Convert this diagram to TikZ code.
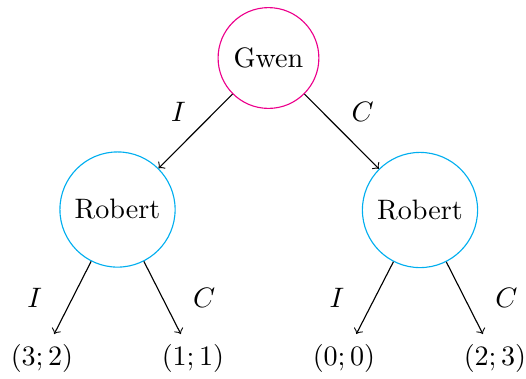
\documentclass[tikz,border=0pt]{standalone}
\usepackage{amsmath}
\usepackage{xcolor}
\usepackage{tikz}

\definecolor{gwencol}{RGB}{236,0,140}
\definecolor{robcol}{RGB}{0,174,239}

\begin{document}
\begin{tikzpicture}[
                player/.style={circle,draw,minimum size=#1},
                move/.style={->},
            ]
            \useasboundingbox (0,0) rectangle (6.575,-4.725);

            \node[player=1.26cm,draw=gwencol] (gwen) at (3.356,-0.725) {Gwen};

            \node[player=1.44cm,draw=robcol] (robertI) at (1.469,-2.619) {Robert};
            \node[player=1.44cm,draw=robcol] (robertC) at (5.25,-2.625) {Robert};

            \foreach \name/\x/\pay in {II/0.525/{(3;2)},IC/2.4125/{(1;1)},CI/4.3/{(0;0)},CC/6.1875/{(2;3)}} {
                \node (out\name) at (\x,-4.475) {$\pay$};
            }

            \draw[move] (gwen) -- node[above left] {$I$} (robertI);
            \draw[move] (gwen) -- node[above right] {$C$} (robertC);

            \foreach \p in {I,C} {
                \draw[move] (robert\p) -- node[left=2.6mm] {$I$} (out\p I);
                \draw[move] (robert\p) -- node[right=2.6mm] {$C$} (out\p C);
            }
        \end{tikzpicture}
\end{document}
